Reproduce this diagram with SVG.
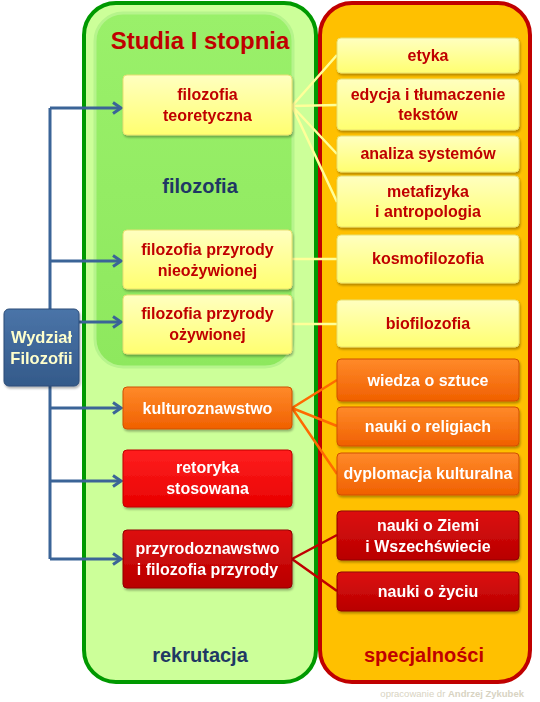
<svg xmlns="http://www.w3.org/2000/svg" width="540" height="702" viewBox="0 0 540 702">
<style>
text{font-family:"Liberation Sans",Arial,sans-serif;font-weight:bold;text-anchor:middle}
.ty{fill:#c00000;font-size:16px}
.tw{fill:#ffffff;font-size:16px}
.yb{fill:url(#gy);stroke:#e8e070;stroke-width:1}
.ob{fill:url(#go);stroke:#d05000;stroke-width:1}
.rb{fill:url(#gr);stroke:#c00000;stroke-width:1}
.db{fill:url(#gd);stroke:#900000;stroke-width:1}
.blue{stroke:#3b6497;stroke-width:3;fill:none}
.cy{stroke:#ffff99;stroke-width:2.5;fill:none}
.co{stroke:#ff6a00;stroke-width:2.5;fill:none}
.cr{stroke:#c00000;stroke-width:2.5;fill:none}
</style>
<defs>
<linearGradient id="gy" x1="0" y1="0" x2="0" y2="1"><stop offset="0" stop-color="#ffffc0"/><stop offset="1" stop-color="#ffff70"/></linearGradient>
<linearGradient id="go" x1="0" y1="0" x2="0" y2="1"><stop offset="0" stop-color="#ff8a2a"/><stop offset="1" stop-color="#f06000"/></linearGradient>
<linearGradient id="gr" x1="0" y1="0" x2="0" y2="1"><stop offset="0" stop-color="#ff2020"/><stop offset="1" stop-color="#e80000"/></linearGradient>
<linearGradient id="gd" x1="0" y1="0" x2="0" y2="1"><stop offset="0" stop-color="#dd1010"/><stop offset="1" stop-color="#b80000"/></linearGradient>
<linearGradient id="gb" x1="0" y1="0" x2="0" y2="1"><stop offset="0" stop-color="#4a74a8"/><stop offset="1" stop-color="#345a8a"/></linearGradient>
<linearGradient id="gin" x1="0" y1="0" x2="0" y2="1"><stop offset="0" stop-color="#9af06a"/><stop offset="1" stop-color="#8ee85e"/></linearGradient>
<filter id="sh" x="-10%" y="-10%" width="130%" height="140%"><feDropShadow dx="1" dy="2" stdDeviation="1.2" flood-color="#000" flood-opacity="0.3"/></filter>
<marker id="arr" markerUnits="userSpaceOnUse" markerWidth="14" markerHeight="14" refX="11" refY="7" orient="auto"><path d="M3,1.5 L11,7 L3,12.5" fill="none" stroke="#3b6497" stroke-width="3"/></marker>
</defs>

<g id="rekrutacja">
<rect x="84" y="3" width="232" height="679" rx="32" fill="#ccff99" stroke="#009900" stroke-width="4"/>
<text x="200" y="662" style="font-size:20px;fill:#1f3864">rekrutacja</text>
</g>
<g id="filozofia-panel">
<rect x="95" y="13" width="198" height="354" rx="28" fill="url(#gin)" stroke="#b6f48c" stroke-width="3"/>
<text x="200" y="49" style="font-size:24px;fill:#c00000">Studia I stopnia</text>
<text x="200" y="193" style="font-size:20px;fill:#1f3864">filozofia</text>
</g>
<g id="specjalnosci">
<rect x="320" y="3" width="210" height="679" rx="32" fill="#ffc000" stroke="#c00000" stroke-width="4"/>
<text x="424" y="662" style="font-size:20px;fill:#c00000">specjalności</text>
</g>

<g id="connectors">
<path class="blue" d="M50,108 V559"/>
<path class="blue" marker-end="url(#arr)" d="M50,108 H121"/>
<path class="blue" marker-end="url(#arr)" d="M50,261 H121"/>
<path class="blue" marker-end="url(#arr)" d="M79,322 H121"/>
<path class="blue" marker-end="url(#arr)" d="M50,408 H121"/>
<path class="blue" marker-end="url(#arr)" d="M50,481 H121"/>
<path class="blue" marker-end="url(#arr)" d="M50,559 H121"/>
<path class="cy" d="M292,106 L337,55 M292,106 L337,105 M292,106 L337,154 M292,106 L337,202"/>
<path class="cy" d="M292,259 H337 M292,324 H337"/>
<path class="co" d="M292,408 L337,380 M292,408 L337,426 M292,408 L337,474"/>
<path class="cr" d="M292,559 L337,535 M292,559 L337,591"/>
</g>

<g id="wydzial" filter="url(#sh)">
<rect x="4" y="309" width="75" height="77" rx="5" fill="url(#gb)" stroke="#2c4d78"/>
<text x="41.5" y="343" style="font-size:16.5px;fill:#ffffcc">Wydział</text>
<text x="41.5" y="364" style="font-size:16.5px;fill:#ffffcc">Filozofii</text>
</g>

<g id="n-teoretyczna" filter="url(#sh)">
<rect class="yb" x="123" y="75" width="169" height="60" rx="4"/>
<text class="ty" x="207.5" y="100">filozofia</text>
<text class="ty" x="207.5" y="121">teoretyczna</text>
</g>
<g id="n-nieozywionej" filter="url(#sh)">
<rect class="yb" x="123" y="230" width="169" height="59" rx="4"/>
<text class="ty" x="207.5" y="255">filozofia przyrody</text>
<text class="ty" x="207.5" y="276">nieożywionej</text>
</g>
<g id="n-ozywionej" filter="url(#sh)">
<rect class="yb" x="123" y="295" width="169" height="59" rx="4"/>
<text class="ty" x="207.5" y="319">filozofia przyrody</text>
<text class="ty" x="207.5" y="340">ożywionej</text>
</g>
<g id="n-kulturoznawstwo" filter="url(#sh)">
<rect class="ob" x="123" y="387" width="169" height="42" rx="4"/>
<text class="tw" x="207.5" y="414">kulturoznawstwo</text>
</g>
<g id="n-retoryka" filter="url(#sh)">
<rect class="rb" x="123" y="450" width="169" height="57" rx="4"/>
<text class="tw" x="207.5" y="473">retoryka</text>
<text class="tw" x="207.5" y="494">stosowana</text>
</g>
<g id="n-przyrodoznawstwo" filter="url(#sh)">
<rect class="db" x="123" y="530" width="169" height="58" rx="4"/>
<text class="tw" x="207.5" y="554">przyrodoznawstwo</text>
<text class="tw" x="207.5" y="575">i filozofia przyrody</text>
</g>

<g id="s-etyka" filter="url(#sh)">
<rect class="yb" x="337" y="38" width="182" height="35" rx="4"/>
<text class="ty" x="428" y="61">etyka</text>
</g>
<g id="s-edycja" filter="url(#sh)">
<rect class="yb" x="337" y="79" width="182" height="51" rx="4"/>
<text class="ty" x="428" y="100">edycja i tłumaczenie</text>
<text class="ty" x="428" y="120">tekstów</text>
</g>
<g id="s-analiza" filter="url(#sh)">
<rect class="yb" x="337" y="136" width="182" height="36" rx="4"/>
<text class="ty" x="428" y="159">analiza systemów</text>
</g>
<g id="s-metafizyka" filter="url(#sh)">
<rect class="yb" x="337" y="176" width="182" height="51" rx="4"/>
<text class="ty" x="428" y="197">metafizyka</text>
<text class="ty" x="428" y="217">i antropologia</text>
</g>
<g id="s-kosmofilozofia" filter="url(#sh)">
<rect class="yb" x="337" y="235" width="182" height="48" rx="4"/>
<text class="ty" x="428" y="264">kosmofilozofia</text>
</g>
<g id="s-biofilozofia" filter="url(#sh)">
<rect class="yb" x="337" y="300" width="182" height="47" rx="4"/>
<text class="ty" x="428" y="329">biofilozofia</text>
</g>
<g id="s-wiedza" filter="url(#sh)">
<rect class="ob" x="337" y="359" width="182" height="42" rx="4"/>
<text class="tw" x="428" y="386">wiedza o sztuce</text>
</g>
<g id="s-religie" filter="url(#sh)">
<rect class="ob" x="337" y="407" width="182" height="39" rx="4"/>
<text class="tw" x="428" y="432">nauki o religiach</text>
</g>
<g id="s-dyplomacja" filter="url(#sh)">
<rect class="ob" x="337" y="453" width="182" height="42" rx="4"/>
<text class="tw" x="428" y="479">dyplomacja kulturalna</text>
</g>
<g id="s-ziemia" filter="url(#sh)">
<rect class="db" x="337" y="511" width="182" height="49" rx="4"/>
<text class="tw" x="428" y="531">nauki o Ziemi</text>
<text class="tw" x="428" y="552">i Wszechświecie</text>
</g>
<g id="s-zycie" filter="url(#sh)">
<rect class="db" x="337" y="572" width="182" height="39" rx="4"/>
<text class="tw" x="428" y="597">nauki o życiu</text>
</g>

<text x="524" y="697" style="text-anchor:end;font-size:9.5px;font-weight:normal;fill:#d8d3c2">opracowanie dr <tspan style="font-weight:bold">Andrzej Zykubek</tspan></text>
</svg>
